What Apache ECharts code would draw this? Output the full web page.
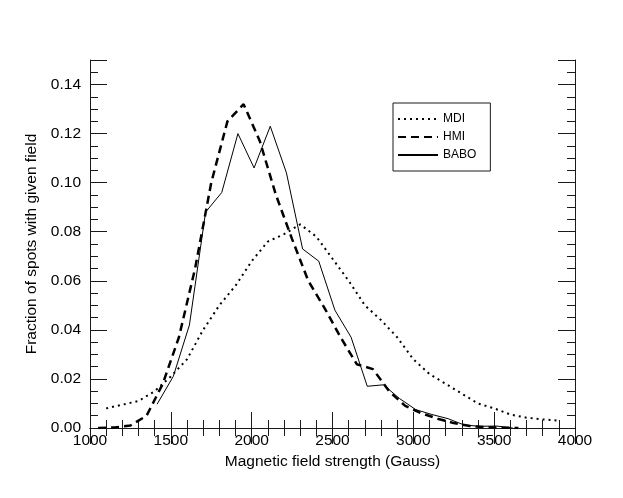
<!DOCTYPE html>
<html>
<head>
    <meta charset="utf-8"/>
    <title>Field strength distribution</title>
    <script src="https://cdn.jsdelivr.net/npm/echarts@6/dist/echarts.min.js"></script>
    <style>
        html, body { margin: 0; padding: 0; background: #fff; }
    </style>
</head>
<body>
<div id="main" style="width: 623px;height:498px;"></div>
<script type="text/javascript">
    // data (Gauss, fraction)
    var mdiX = [1100, 1200, 1300, 1400, 1500, 1600, 1700, 1800, 1900, 2000, 2100, 2200, 2300, 2400, 2500,
        2600, 2700, 2800, 2900, 3000, 3100, 3200, 3300, 3400, 3500, 3600, 3700, 3800, 3900];
    var mdiY = [0.008, 0.0095, 0.011, 0.015, 0.021, 0.028, 0.040, 0.050, 0.058, 0.068, 0.076, 0.079, 0.083, 0.078, 0.069,
        0.060, 0.050, 0.044, 0.037, 0.028, 0.022, 0.018, 0.014, 0.010, 0.008, 0.0055, 0.0042, 0.0035, 0.003];

    var hmiX = [1050, 1150, 1250, 1350, 1450, 1550, 1650, 1750, 1850, 1950, 2050, 2150, 2250, 2350,
        2450, 2550, 2650, 2750, 2850, 2950, 3050, 3150, 3250, 3350, 3450, 3550, 3650];
    var hmiY = [0.0, 0.0002, 0.001, 0.005, 0.018, 0.037, 0.065, 0.100, 0.125, 0.132, 0.117, 0.095, 0.077, 0.060,
        0.049, 0.037, 0.026, 0.024, 0.015, 0.009, 0.006, 0.0038, 0.002, 0.0008, 0.0003, 0.0001, 0.0];

    var baboX = [1415, 1515, 1615, 1715, 1815, 1915, 2015, 2115, 2215, 2315, 2415, 2515,
        2615, 2715, 2815, 2915, 3015, 3115, 3215, 3315, 3415, 3515, 3615];
    var baboY = [0.0097, 0.021, 0.042, 0.088, 0.096, 0.120, 0.106, 0.123, 0.104, 0.073, 0.068, 0.048,
        0.037, 0.017, 0.0176, 0.012, 0.0075, 0.0055, 0.0038, 0.0012, 0.0007, 0.0008, 0.0];

    function pairs(xs, ys) {
        return xs.map(function (x, i) { return [x, ys[i]]; });
    }

    var font = 'Liberation Sans';
    var ink = '#1a1a1a';
    var fs = 15.5;

    var myChart = echarts.init(document.getElementById('main'));

    // 坐标轴公共设置
    function xAxisCfg(pos, labels) {
        return {
            type: 'value', position: pos, min: 1000, max: 4000, interval: 500,
            name: labels ? 'Magnetic field strength (Gauss)' : '',
            nameLocation: 'middle', nameGap: 25,
            nameTextStyle: {color: '#000', fontSize: fs, fontFamily: font},
            axisLine: {show: true, lineStyle: {color: ink, width: 1}},
            axisTick: {show: true, inside: true, length: 16, lineStyle: {color: ink}},
            minorTick: {show: true, splitNumber: 5, length: 8, lineStyle: {color: ink}},
            axisLabel: {
                show: labels, color: '#000', fontSize: fs, fontFamily: font, margin: 5,
                formatter: function (v) { return String(v); }
            },
            splitLine: {show: false}
        };
    }
    function yAxisCfg(pos, labels) {
        return {
            type: 'value', position: pos, min: 0, max: 0.15, interval: 0.02,
            name: labels ? 'Fraction of spots with given field' : '',
            nameLocation: 'middle', nameGap: 38,
            nameTextStyle: {color: '#000', fontSize: fs, fontFamily: font},
            axisLine: {show: true, lineStyle: {color: ink, width: 1}},
            axisTick: {show: true, inside: true, length: 17, lineStyle: {color: ink}},
            minorTick: {show: true, splitNumber: 4, length: 8, lineStyle: {color: ink}},
            axisLabel: {
                show: labels, color: '#000', fontSize: fs, fontFamily: font, margin: 9,
                showMaxLabel: false,
                formatter: function (v) { return v > 0.145 ? '' : v.toFixed(2); }
            },
            splitLine: {show: false}
        };
    }

    var option = {
        backgroundColor: '#fff',
        animation: false,
        textStyle: {fontFamily: font},
        grid: {left: 90, right: 48, top: 60, bottom: 70},
        legend: {
            orient: 'vertical',
            left: 393, top: 103,
            itemWidth: 40, itemHeight: 12, itemGap: 6,
            padding: [10, 14, 10, 4],
            borderColor: ink, borderWidth: 1,
            itemStyle: {color: 'rgba(0,0,0,0)', borderWidth: 0},
            textStyle: {color: '#000', fontSize: 12, fontFamily: font},
            data: ['MDI', 'HMI', 'BABO']
        },
        xAxis: [xAxisCfg('bottom', true), xAxisCfg('top', false)],
        yAxis: [yAxisCfg('left', true), yAxisCfg('right', false)],
        series: [{
            name: 'MDI', type: 'line', symbol: 'none',
            lineStyle: {color: '#000', width: 2, type: [2, 4]},
            itemStyle: {color: '#000'},
            data: pairs(mdiX, mdiY)
        }, {
            name: 'HMI', type: 'line', symbol: 'none',
            lineStyle: {color: '#000', width: 2.5, type: [8, 5]},
            itemStyle: {color: '#000'},
            data: pairs(hmiX, hmiY)
        }, {
            name: 'BABO', type: 'line', symbol: 'none',
            lineStyle: {color: '#000', width: 1},
            itemStyle: {color: '#000'},
            data: pairs(baboX, baboY)
        }]
    };

    myChart.setOption(option);
</script>
</body>
</html>
